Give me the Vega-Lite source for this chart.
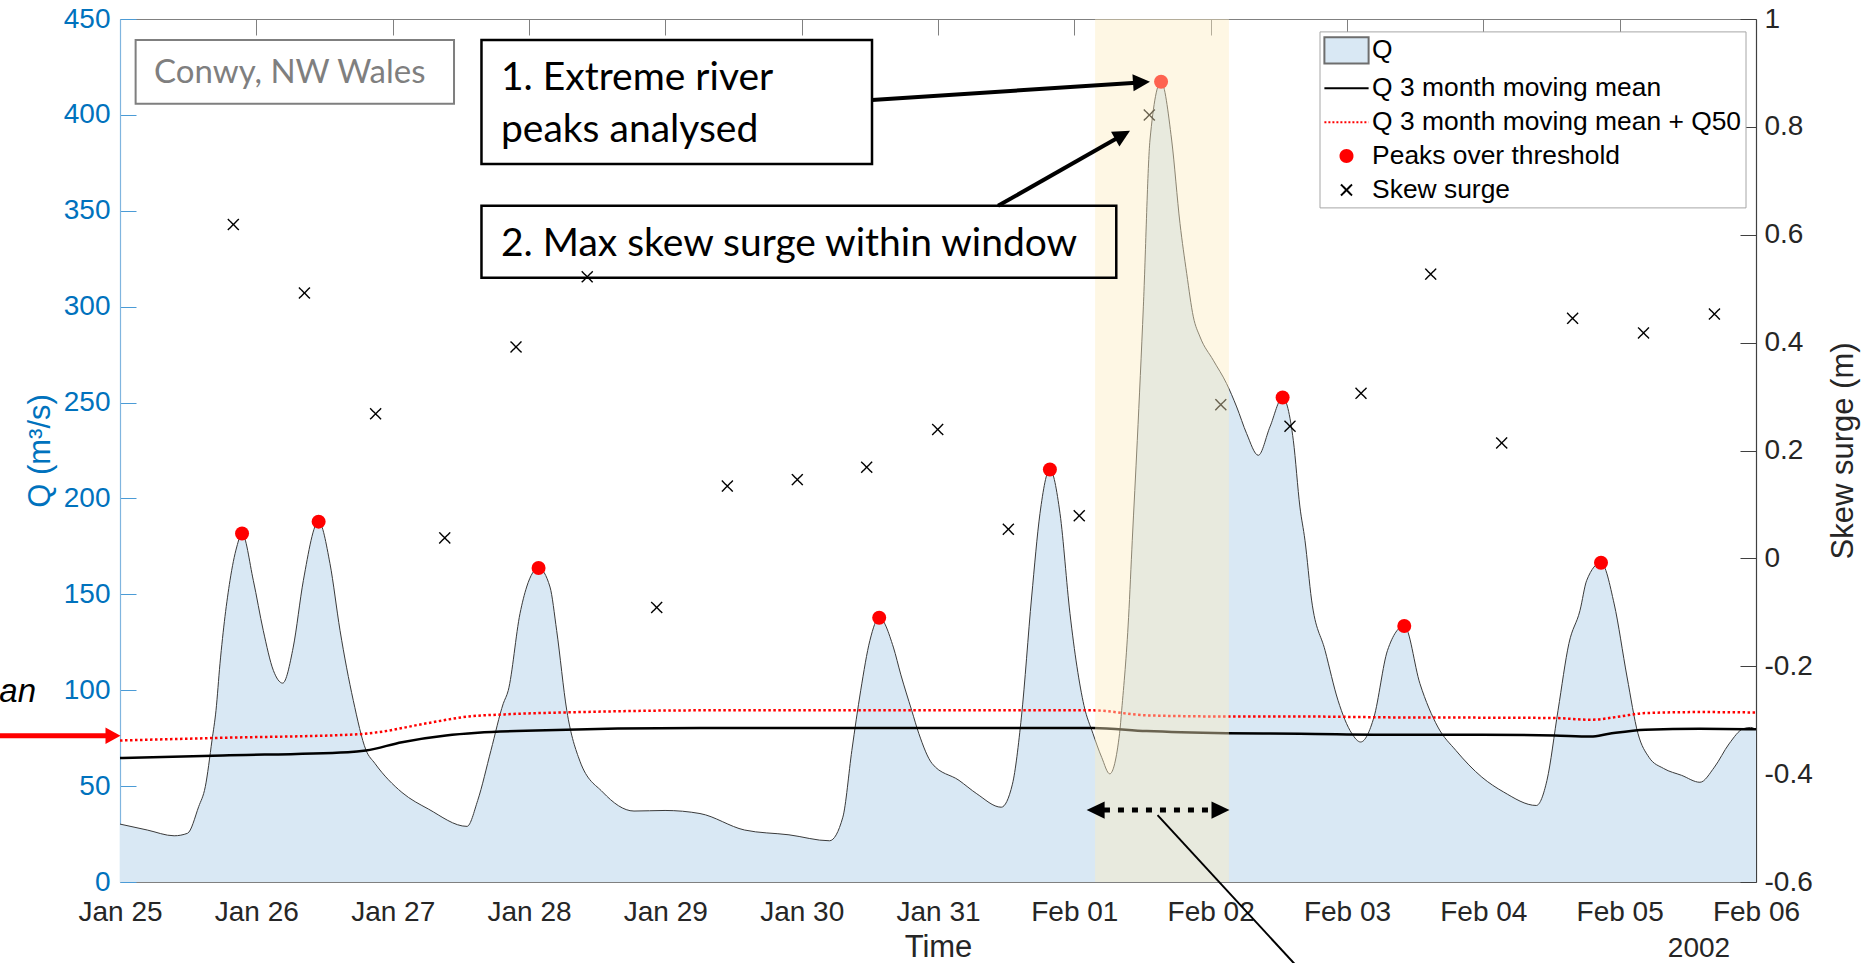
{
  "$schema": "https://vega.github.io/schema/vega-lite/v6.json",
  "width": 1636,
  "height": 863,
  "autosize": {"type": "none"},
  "padding": {"left": 120, "top": 19, "right": 114, "bottom": 81},
  "background": "white",
  "config": {
    "view": {"stroke": null},
    "axis": {
      "labelFont": "Liberation Sans",
      "titleFont": "Liberation Sans",
      "labelFontSize": 28,
      "titleFontSize": 31,
      "titleFontWeight": "normal",
      "grid": false,
      "labelFlush": false,
      "labelOverlap": false,
      "labelBound": false,
      "tickWidth": 1,
      "domainWidth": 1.2
    }
  },
  "datasets": {
    "flow": [
      {"time": "2002-01-25T00:00", "Q": 30.2},
      {"time": "2002-01-25T04:48", "Q": 27.1},
      {"time": "2002-01-25T09:32", "Q": 24.1},
      {"time": "2002-01-25T11:53", "Q": 25.4},
      {"time": "2002-01-25T13:51", "Q": 39.3},
      {"time": "2002-01-25T15:01", "Q": 49.7},
      {"time": "2002-01-25T16:12", "Q": 74},
      {"time": "2002-01-25T16:54", "Q": 89.5},
      {"time": "2002-01-25T17:36", "Q": 113.8},
      {"time": "2002-01-25T19:22", "Q": 157.3},
      {"time": "2002-01-25T20:33", "Q": 174.7},
      {"time": "2002-01-25T21:29", "Q": 181.7},
      {"time": "2002-01-25T23:28", "Q": 157.3},
      {"time": "2002-01-26T01:13", "Q": 131.2},
      {"time": "2002-01-26T03:00", "Q": 110.3},
      {"time": "2002-01-26T04:38", "Q": 103.7},
      {"time": "2002-01-26T06:30", "Q": 122.5},
      {"time": "2002-01-26T08:17", "Q": 157.3},
      {"time": "2002-01-26T10:58", "Q": 187.9},
      {"time": "2002-01-26T12:58", "Q": 166},
      {"time": "2002-01-26T14:44", "Q": 131.2},
      {"time": "2002-01-26T17:04", "Q": 94.7},
      {"time": "2002-01-26T19:18", "Q": 68.8},
      {"time": "2002-01-26T20:53", "Q": 61.8},
      {"time": "2002-01-27T01:38", "Q": 46.7},
      {"time": "2002-01-27T06:19", "Q": 38},
      {"time": "2002-01-27T13:05", "Q": 29},
      {"time": "2002-01-27T14:58", "Q": 42.5},
      {"time": "2002-01-27T17:18", "Q": 68.6},
      {"time": "2002-01-27T19:28", "Q": 93},
      {"time": "2002-01-27T20:21", "Q": 99.9},
      {"time": "2002-01-27T22:25", "Q": 140},
      {"time": "2002-01-27T23:35", "Q": 153.8},
      {"time": "2002-01-28T01:41", "Q": 163.7},
      {"time": "2002-01-28T03:42", "Q": 153.8},
      {"time": "2002-01-28T04:52", "Q": 131.2},
      {"time": "2002-01-28T06:39", "Q": 89.5},
      {"time": "2002-01-28T08:58", "Q": 63},
      {"time": "2002-01-28T12:58", "Q": 46.9},
      {"time": "2002-01-28T18:29", "Q": 37},
      {"time": "2002-01-28T23:57", "Q": 37.3},
      {"time": "2002-01-29T06:06", "Q": 35.7},
      {"time": "2002-01-29T13:57", "Q": 27.1},
      {"time": "2002-01-29T21:46", "Q": 24.6},
      {"time": "2002-01-30T04:54", "Q": 21.5},
      {"time": "2002-01-30T07:15", "Q": 33.8},
      {"time": "2002-01-30T08:50", "Q": 68.6},
      {"time": "2002-01-30T10:24", "Q": 100},
      {"time": "2002-01-30T12:01", "Q": 126},
      {"time": "2002-01-30T13:39", "Q": 137.8},
      {"time": "2002-01-30T16:08", "Q": 122.5},
      {"time": "2002-01-30T17:28", "Q": 108},
      {"time": "2002-01-30T19:22", "Q": 89.5},
      {"time": "2002-01-30T20:37", "Q": 77.5},
      {"time": "2002-01-30T22:57", "Q": 61.8},
      {"time": "2002-01-31T03:42", "Q": 53},
      {"time": "2002-01-31T06:50", "Q": 46},
      {"time": "2002-01-31T11:08", "Q": 39},
      {"time": "2002-01-31T13:06", "Q": 51},
      {"time": "2002-01-31T14:41", "Q": 86},
      {"time": "2002-01-31T16:29", "Q": 148.6},
      {"time": "2002-01-31T17:57", "Q": 192.1},
      {"time": "2002-01-31T19:42", "Q": 215.1},
      {"time": "2002-01-31T21:29", "Q": 192.1},
      {"time": "2002-01-31T23:14", "Q": 140},
      {"time": "2002-02-01T01:42", "Q": 92},
      {"time": "2002-02-01T03:16", "Q": 77.5},
      {"time": "2002-02-01T04:49", "Q": 65},
      {"time": "2002-02-01T06:14", "Q": 56.4},
      {"time": "2002-02-01T07:58", "Q": 77.5},
      {"time": "2002-02-01T08:20", "Q": 89.5},
      {"time": "2002-02-01T09:33", "Q": 138},
      {"time": "2002-02-01T10:12", "Q": 178.2},
      {"time": "2002-02-01T11:05", "Q": 230.3},
      {"time": "2002-02-01T12:09", "Q": 299.9},
      {"time": "2002-02-01T13:19", "Q": 386.9},
      {"time": "2002-02-01T15:16", "Q": 417.3},
      {"time": "2002-02-01T17:08", "Q": 386.9},
      {"time": "2002-02-01T18:36", "Q": 343.4},
      {"time": "2002-02-01T19:47", "Q": 317.3},
      {"time": "2002-02-01T20:57", "Q": 294.7},
      {"time": "2002-02-01T22:08", "Q": 284.2},
      {"time": "2002-02-02T00:27", "Q": 272.1},
      {"time": "2002-02-02T02:48", "Q": 259.9},
      {"time": "2002-02-02T04:35", "Q": 247.7},
      {"time": "2002-02-02T06:20", "Q": 233.8},
      {"time": "2002-02-02T08:23", "Q": 222.5},
      {"time": "2002-02-02T10:26", "Q": 237.3},
      {"time": "2002-02-02T12:40", "Q": 252.6},
      {"time": "2002-02-02T14:33", "Q": 230.3},
      {"time": "2002-02-02T15:43", "Q": 195.5},
      {"time": "2002-02-02T16:36", "Q": 178.2},
      {"time": "2002-02-02T17:46", "Q": 147},
      {"time": "2002-02-02T20:08", "Q": 120.8},
      {"time": "2002-02-02T22:25", "Q": 94.7},
      {"time": "2002-02-03T00:50", "Q": 77.5},
      {"time": "2002-02-03T02:24", "Q": 73},
      {"time": "2002-02-03T04:45", "Q": 86},
      {"time": "2002-02-03T07:08", "Q": 120.8},
      {"time": "2002-02-03T10:05", "Q": 133.5},
      {"time": "2002-02-03T12:50", "Q": 103.5},
      {"time": "2002-02-03T16:00", "Q": 80.8},
      {"time": "2002-02-03T19:10", "Q": 68.6},
      {"time": "2002-02-03T23:44", "Q": 54.7},
      {"time": "2002-02-04T03:35", "Q": 46.9},
      {"time": "2002-02-04T09:20", "Q": 39.9},
      {"time": "2002-02-04T11:12", "Q": 53},
      {"time": "2002-02-04T13:09", "Q": 89.5},
      {"time": "2002-02-04T15:04", "Q": 124.4},
      {"time": "2002-02-04T17:01", "Q": 141.6},
      {"time": "2002-02-04T18:12", "Q": 157.3},
      {"time": "2002-02-04T20:43", "Q": 166.5},
      {"time": "2002-02-04T23:02", "Q": 145},
      {"time": "2002-02-05T01:18", "Q": 106.9},
      {"time": "2002-02-05T03:13", "Q": 77.5},
      {"time": "2002-02-05T05:10", "Q": 65},
      {"time": "2002-02-05T07:44", "Q": 59.2},
      {"time": "2002-02-05T10:55", "Q": 55.6},
      {"time": "2002-02-05T14:08", "Q": 52},
      {"time": "2002-02-05T16:41", "Q": 59.9},
      {"time": "2002-02-05T19:15", "Q": 72},
      {"time": "2002-02-05T21:48", "Q": 80},
      {"time": "2002-02-05T23:04", "Q": 80.6},
      {"time": "2002-02-06T00:00", "Q": 79.4}
    ],
    "movingMean": [
      {"time": "2002-01-25T00:00", "Q": 64.6},
      {"time": "2002-01-25T18:07", "Q": 66},
      {"time": "2002-01-26T16:08", "Q": 67.7},
      {"time": "2002-01-26T19:18", "Q": 68.6},
      {"time": "2002-01-27T01:38", "Q": 72.9},
      {"time": "2002-01-27T09:23", "Q": 76.4},
      {"time": "2002-01-27T14:59", "Q": 77.8},
      {"time": "2002-01-28T01:11", "Q": 79},
      {"time": "2002-01-29T06:06", "Q": 80.3},
      {"time": "2002-02-01T03:16", "Q": 80.3},
      {"time": "2002-02-01T12:43", "Q": 78.7},
      {"time": "2002-02-02T02:50", "Q": 77.6},
      {"time": "2002-02-02T15:43", "Q": 77.3},
      {"time": "2002-02-03T09:20", "Q": 76.8},
      {"time": "2002-02-03T23:44", "Q": 76.8},
      {"time": "2002-02-04T12:32", "Q": 76.4},
      {"time": "2002-02-04T18:55", "Q": 75.9},
      {"time": "2002-02-04T22:08", "Q": 77.3},
      {"time": "2002-02-05T04:31", "Q": 79.4},
      {"time": "2002-02-05T14:08", "Q": 79.9},
      {"time": "2002-02-06T00:00", "Q": 79.6}
    ],
    "threshold": [
      {"time": "2002-01-25T00:00", "Q": 73.8},
      {"time": "2002-01-25T18:07", "Q": 75.2},
      {"time": "2002-01-26T17:43", "Q": 77},
      {"time": "2002-01-26T21:40", "Q": 78.2},
      {"time": "2002-01-27T05:31", "Q": 82.5},
      {"time": "2002-01-27T13:24", "Q": 86.3},
      {"time": "2002-01-27T19:41", "Q": 87.4},
      {"time": "2002-01-28T08:58", "Q": 88.6},
      {"time": "2002-01-29T06:06", "Q": 89.5},
      {"time": "2002-02-01T03:16", "Q": 89.5},
      {"time": "2002-02-01T12:43", "Q": 86.9},
      {"time": "2002-02-02T02:50", "Q": 86.3},
      {"time": "2002-02-02T15:43", "Q": 86.3},
      {"time": "2002-02-03T09:20", "Q": 85.8},
      {"time": "2002-02-03T23:44", "Q": 85.7},
      {"time": "2002-02-04T12:32", "Q": 85.5},
      {"time": "2002-02-04T18:55", "Q": 84.6},
      {"time": "2002-02-05T00:03", "Q": 86.3},
      {"time": "2002-02-05T04:28", "Q": 88.1},
      {"time": "2002-02-05T14:08", "Q": 88.6},
      {"time": "2002-02-06T00:00", "Q": 88.4}
    ],
    "peaks": [
      {"time": "2002-01-25T21:29", "Q": 181.7},
      {"time": "2002-01-26T10:58", "Q": 187.9},
      {"time": "2002-01-28T01:41", "Q": 163.7},
      {"time": "2002-01-30T13:39", "Q": 137.8},
      {"time": "2002-01-31T19:42", "Q": 215.1},
      {"time": "2002-02-01T15:16", "Q": 417.3},
      {"time": "2002-02-02T12:40", "Q": 252.6},
      {"time": "2002-02-03T10:05", "Q": 133.5},
      {"time": "2002-02-04T20:43", "Q": 166.5}
    ],
    "skew": [
      {"time": "2002-01-25T19:57", "surge": 0.619, "series": "Skew surge"},
      {"time": "2002-01-26T08:28", "surge": 0.492, "series": "Skew surge"},
      {"time": "2002-01-26T21:00", "surge": 0.268, "series": "Skew surge"},
      {"time": "2002-01-27T09:10", "surge": 0.038, "series": "Skew surge"},
      {"time": "2002-01-27T21:43", "surge": 0.392, "series": "Skew surge"},
      {"time": "2002-01-28T10:15", "surge": 0.522, "series": "Skew surge"},
      {"time": "2002-01-28T22:29", "surge": -0.091, "series": "Skew surge"},
      {"time": "2002-01-29T10:55", "surge": 0.134, "series": "Skew surge"},
      {"time": "2002-01-29T23:14", "surge": 0.146, "series": "Skew surge"},
      {"time": "2002-01-30T11:27", "surge": 0.169, "series": "Skew surge"},
      {"time": "2002-01-30T23:57", "surge": 0.239, "series": "Skew surge"},
      {"time": "2002-01-31T12:23", "surge": 0.054, "series": "Skew surge"},
      {"time": "2002-02-01T00:52", "surge": 0.079, "series": "Skew surge"},
      {"time": "2002-02-01T13:12", "surge": 0.822, "series": "Skew surge"},
      {"time": "2002-02-02T01:47", "surge": 0.285, "series": "Skew surge"},
      {"time": "2002-02-02T13:58", "surge": 0.245, "series": "Skew surge"},
      {"time": "2002-02-03T02:28", "surge": 0.306, "series": "Skew surge"},
      {"time": "2002-02-03T14:44", "surge": 0.527, "series": "Skew surge"},
      {"time": "2002-02-04T03:14", "surge": 0.214, "series": "Skew surge"},
      {"time": "2002-02-04T15:43", "surge": 0.445, "series": "Skew surge"},
      {"time": "2002-02-05T04:12", "surge": 0.418, "series": "Skew surge"},
      {"time": "2002-02-05T16:41", "surge": 0.453, "series": "Skew surge"}
    ]
  },
  "layer": [
    {
      "layer": [
        {
          "data": {"name": "flow"},
          "mark": {"type": "area", "color": "#d9e8f4", "opacity": 1, "interpolate": "monotone"},
          "encoding": {
            "x": {
              "field": "time", "type": "temporal",
              "scale": {"domain": [{"year": 2002, "month": "jan", "date": 25}, {"year": 2002, "month": "feb", "date": 6}]},
              "axis": {
                "orient": "bottom", "title": "Time", "format": "%b %d",
                "tickCount": {"interval": "day", "step": 1},
                "tickSize": -16, "labelPadding": 32,
                "labelColor": "#262626", "titleColor": "#262626",
                "domainColor": "#808080", "tickColor": "#808080",
                "titlePadding": 6
              }
            },
            "y": {
              "field": "Q", "type": "quantitative",
              "scale": {"domain": [0, 450], "nice": false, "zero": false},
              "axis": {
                "orient": "left", "title": "Q (m³/s)",
                "values": [0, 50, 100, 150, 200, 250, 300, 350, 400, 450],
                "tickSize": -16, "labelPadding": 26,
                "labelColor": "#0072BD", "titleColor": "#0072BD",
                "domainColor": "#80b5df", "tickColor": "#4b9bd6",
                "titleAngle": 270, "titleAlign": "center", "titleBaseline": "middle",
                "titleX": -79.5, "titleY": 431.5
              }
            }
          }
        },
        {
          "data": {"name": "flow"},
          "mark": {"type": "line", "color": "#3a3a3a", "strokeWidth": 1, "interpolate": "monotone"},
          "encoding": {
            "x": {
              "field": "time", "type": "temporal",
              "axis": {
                "orient": "top", "labels": false, "title": null,
                "tickCount": {"interval": "day", "step": 1},
                "tickSize": -16, "domainColor": "#808080", "tickColor": "#808080"
              }
            },
            "y": {"field": "Q", "type": "quantitative", "axis": null}
          }
        },
        {
          "data": {"name": "movingMean"},
          "mark": {"type": "line", "color": "#000000", "strokeWidth": 2.5, "interpolate": "monotone"},
          "encoding": {
            "x": {"field": "time", "type": "temporal", "axis": null},
            "y": {"field": "Q", "type": "quantitative", "axis": null}
          }
        },
        {
          "data": {"name": "threshold"},
          "mark": {"type": "line", "color": "#ff0000", "strokeWidth": 2.5, "strokeDash": [2.5, 2.5], "interpolate": "monotone"},
          "encoding": {
            "x": {"field": "time", "type": "temporal", "axis": null},
            "y": {"field": "Q", "type": "quantitative", "axis": null}
          }
        },
        {
          "data": {"name": "peaks"},
          "mark": {"type": "point", "shape": "circle", "filled": true, "color": "#ff0000", "opacity": 1, "size": 196, "strokeWidth": 0},
          "encoding": {
            "x": {"field": "time", "type": "temporal", "axis": null},
            "y": {"field": "Q", "type": "quantitative", "axis": null}
          }
        }
      ],
      "resolve": {"axis": {"x": "independent", "y": "independent"}}
    },
    {
      "data": {"name": "skew"},
      "mark": {"type": "point", "opacity": 1, "size": 784, "strokeWidth": 1.4},
      "encoding": {
        "x": {"field": "time", "type": "temporal", "axis": null},
        "y": {
          "field": "surge", "type": "quantitative",
          "scale": {"domain": [-0.6, 1], "nice": false, "zero": false},
          "axis": {
            "orient": "right", "title": "Skew surge (m)",
            "values": [-0.6, -0.4, -0.2, 0, 0.2, 0.4, 0.6, 0.8, 1],
            "labelExpr": "replace(format(datum.value, '.1~f'), '−', '-')",
            "tickSize": -16, "labelPadding": 24,
            "labelColor": "#262626", "titleColor": "#262626",
            "domainColor": "#404040", "tickColor": "#404040",
            "titleAngle": 270, "titleAlign": "center", "titleBaseline": "middle",
            "titleX": 87, "titleY": 431.5
          }
        },
        "fill": {
          "field": "series", "type": "nominal",
          "scale": {
            "domain": ["Q", "Q 3 month moving mean", "Q 3 month moving mean + Q50", "Peaks over threshold", "Skew surge"],
            "range": ["#d9e8f4", "transparent", "transparent", "#ff0000", "transparent"]
          },
          "legend": {
            "title": null,
            "orient": "none",
            "legendX": 1199.5,
            "legendY": 12.4,
            "direction": "vertical",
            "fillColor": "white",
            "strokeColor": "#a6a6a6",
            "padding": 4,
            "symbolSize": 784,
            "symbolStrokeWidth": 2,
            "symbolOffset": 8,
            "rowPadding": 4.9,
            "labelFont": "Liberation Sans",
            "labelFontSize": 26.4,
            "labelColor": "#000000",
            "labelLimit": 0,
            "labelOffset": 10.6
          }
        },
        "stroke": {
          "field": "series", "type": "nominal",
          "scale": {
            "domain": ["Q", "Q 3 month moving mean", "Q 3 month moving mean + Q50", "Peaks over threshold", "Skew surge"],
            "range": ["#6e6e6e", "#000000", "#ff0000", "transparent", "#000000"]
          }
        },
        "shape": {
          "field": "series", "type": "nominal",
          "scale": {
            "domain": ["Q", "Q 3 month moving mean", "Q 3 month moving mean + Q50", "Peaks over threshold", "Skew surge"],
            "range": [
              "M-1.579,-0.94H1.579V0.94H-1.579Z",
              "M-1.579,0H1.579",
              "M-1.579,0H1.579",
              "M0.5,0A0.5,0.5,0,1,1,-0.5,0A0.5,0.5,0,1,1,0.5,0Z",
              "M-0.393,-0.393L0.393,0.393M-0.393,0.393L0.393,-0.393"
            ]
          }
        },
        "strokeDash": {
          "field": "series", "type": "nominal",
          "scale": {
            "domain": ["Q", "Q 3 month moving mean", "Q 3 month moving mean + Q50", "Peaks over threshold", "Skew surge"],
            "range": [[1, 0], [1, 0], [2, 2], [1, 0], [1, 0]]
          }
        }
      }
    },
    {
      "layer": [
        {
          "data": {"values": [{"time": "2002-02-01T03:39", "time2": "2002-02-02T03:13"}]},
          "mark": {"type": "rect", "color": "#fdedbf", "opacity": 0.42},
          "encoding": {
            "x": {"field": "time", "type": "temporal", "axis": null},
            "x2": {"field": "time2"}
          }
        },
        {
          "data": {"values": [
            {"time": "2002-01-27T15:38", "time2": "2002-01-30T12:23", "Q": 439.05, "Q2": 374.4},
            {"time": "2002-01-27T15:38", "time2": "2002-02-01T07:23", "Q": 352.6, "Q2": 315.1}
          ]},
          "mark": {"type": "rect", "fillOpacity": 0, "stroke": "#000000", "strokeWidth": 2.5},
          "encoding": {
            "x": {"field": "time", "type": "temporal", "axis": null},
            "x2": {"field": "time2"},
            "y": {"field": "Q", "type": "quantitative", "scale": {"domain": [0, 450], "nice": false, "zero": false}, "axis": null},
            "y2": {"field": "Q2"}
          }
        },
        {
          "data": {"values": [
            {"time": "2002-01-25T02:45", "time2": "2002-01-27T10:48", "Q": 439.05, "Q2": 405.8}
          ]},
          "mark": {"type": "rect", "fillOpacity": 0, "stroke": "#7f7f7f", "strokeWidth": 2},
          "encoding": {
            "x": {"field": "time", "type": "temporal", "axis": null},
            "x2": {"field": "time2"},
            "y": {"field": "Q", "type": "quantitative", "axis": null},
            "y2": {"field": "Q2"}
          }
        },
        {
          "data": {"values": [{"time": "2002-01-25T05:59", "Q": 416.5, "label": "Conwy, NW Wales"}]},
          "mark": {"type": "text", "font": "Lato", "fontSize": 33, "color": "#7f7f7f", "align": "left", "baseline": "alphabetic"},
          "encoding": {
            "x": {"field": "time", "type": "temporal", "axis": null},
            "y": {"field": "Q", "type": "quantitative", "axis": null},
            "text": {"field": "label"}
          }
        },
        {
          "data": {"values": [
            {"time": "2002-01-27T19:04", "Q": 413.0, "label": "1. Extreme river"},
            {"time": "2002-01-27T19:04", "Q": 386.1, "label": "peaks analysed"},
            {"time": "2002-01-27T19:04", "Q": 326.5, "label": "2. Max skew surge within window"}
          ]},
          "mark": {"type": "text", "font": "Lato", "fontSize": 39, "color": "#000000", "align": "left", "baseline": "alphabetic"},
          "encoding": {
            "x": {"field": "time", "type": "temporal", "axis": null},
            "y": {"field": "Q", "type": "quantitative", "axis": null},
            "text": {"field": "label"}
          }
        },
        {
          "data": {"values": [{"time": "2002-01-24T09:13", "Q": 94.0, "label": "an"}]},
          "mark": {"type": "text", "font": "Liberation Sans", "fontStyle": "italic", "fontSize": 33, "color": "#000000", "align": "right", "baseline": "alphabetic"},
          "encoding": {
            "x": {"field": "time", "type": "temporal", "axis": null},
            "y": {"field": "Q", "type": "quantitative", "axis": null},
            "text": {"field": "label"}
          }
        },
        {
          "data": {"values": [{"time": "2002-02-05T13:58", "Q": -39.1, "label": "2002"}]},
          "mark": {"type": "text", "font": "Liberation Sans", "fontSize": 28, "color": "#262626", "align": "center", "baseline": "alphabetic"},
          "encoding": {
            "x": {"field": "time", "type": "temporal", "axis": null},
            "y": {"field": "Q", "type": "quantitative", "axis": null},
            "text": {"field": "label"}
          }
        },
        {
          "data": {"values": [
            {"time": "2002-01-30T12:23", "Q": 407.8, "time2": "2002-02-01T11:34", "Q2": 416.9},
            {"time": "2002-01-31T10:34", "Q": 352.6, "time2": "2002-02-01T08:16", "Q2": 389.1}
          ]},
          "mark": {"type": "rule", "color": "#000000", "strokeWidth": 4},
          "encoding": {
            "x": {"field": "time", "type": "temporal", "axis": null},
            "x2": {"field": "time2"},
            "y": {"field": "Q", "type": "quantitative", "axis": null},
            "y2": {"field": "Q2"}
          }
        },
        {
          "data": {"values": [{"time": "2002-02-01T13:19", "Q": 417.3}]},
          "mark": {"type": "point", "shape": "M0,0L-1,-0.5L-1,0.5Z", "filled": true, "color": "#000000", "opacity": 1, "size": 1156, "angle": 356.2, "strokeWidth": 0},
          "encoding": {
            "x": {"field": "time", "type": "temporal", "axis": null},
            "y": {"field": "Q", "type": "quantitative", "axis": null}
          }
        },
        {
          "data": {"values": [{"time": "2002-02-01T09:48", "Q": 391.7}]},
          "mark": {"type": "point", "shape": "M0,0L-1,-0.5L-1,0.5Z", "filled": true, "color": "#000000", "opacity": 1, "size": 1156, "angle": 330.4, "strokeWidth": 0},
          "encoding": {
            "x": {"field": "time", "type": "temporal", "axis": null},
            "y": {"field": "Q", "type": "quantitative", "axis": null}
          }
        },
        {
          "data": {"values": [{"time": "2002-02-01T05:13", "Q": 37.5, "time2": "2002-02-02T00:14", "Q2": 37.5}]},
          "mark": {"type": "rule", "color": "#000000", "strokeWidth": 5, "strokeDash": [6, 8]},
          "encoding": {
            "x": {"field": "time", "type": "temporal", "axis": null},
            "x2": {"field": "time2"},
            "y": {"field": "Q", "type": "quantitative", "axis": null},
            "y2": {"field": "Q2"}
          }
        },
        {
          "data": {"values": [{"time": "2002-02-01T02:10", "Q": 37.5}]},
          "mark": {"type": "point", "shape": "M0,0L-1,-0.48L-1,0.48Z", "filled": true, "color": "#000000", "opacity": 1, "size": 1296, "angle": 180, "strokeWidth": 0},
          "encoding": {
            "x": {"field": "time", "type": "temporal", "axis": null},
            "y": {"field": "Q", "type": "quantitative", "axis": null}
          }
        },
        {
          "data": {"values": [{"time": "2002-02-02T03:19", "Q": 37.5}]},
          "mark": {"type": "point", "shape": "M0,0L-1,-0.48L-1,0.48Z", "filled": true, "color": "#000000", "opacity": 1, "size": 1296, "angle": 0, "strokeWidth": 0},
          "encoding": {
            "x": {"field": "time", "type": "temporal", "axis": null},
            "y": {"field": "Q", "type": "quantitative", "axis": null}
          }
        },
        {
          "data": {"values": [{"time": "2002-02-01T14:39", "Q": 34.9, "time2": "2002-02-02T19:00", "Q2": -56.3}]},
          "mark": {"type": "rule", "color": "#000000", "strokeWidth": 2},
          "encoding": {
            "x": {"field": "time", "type": "temporal", "axis": null},
            "x2": {"field": "time2"},
            "y": {"field": "Q", "type": "quantitative", "axis": null},
            "y2": {"field": "Q2"}
          }
        },
        {
          "data": {"values": [{"time": "2002-01-23T23:20", "Q": 76.3, "time2": "2002-01-24T22:14", "Q2": 76.3}]},
          "mark": {"type": "rule", "color": "#ff0000", "strokeWidth": 5},
          "encoding": {
            "x": {"field": "time", "type": "temporal", "axis": null},
            "x2": {"field": "time2"},
            "y": {"field": "Q", "type": "quantitative", "axis": null},
            "y2": {"field": "Q2"}
          }
        },
        {
          "data": {"values": [{"time": "2002-01-25T00:05", "Q": 76.3}]},
          "mark": {"type": "point", "shape": "M0,0L-1,-0.55L-1,0.55Z", "filled": true, "color": "#ff0000", "opacity": 1, "size": 900, "angle": 0, "strokeWidth": 0},
          "encoding": {
            "x": {"field": "time", "type": "temporal", "axis": null},
            "y": {"field": "Q", "type": "quantitative", "axis": null}
          }
        }
      ]
    }
  ],
  "resolve": {"scale": {"y": "independent"}}
}
